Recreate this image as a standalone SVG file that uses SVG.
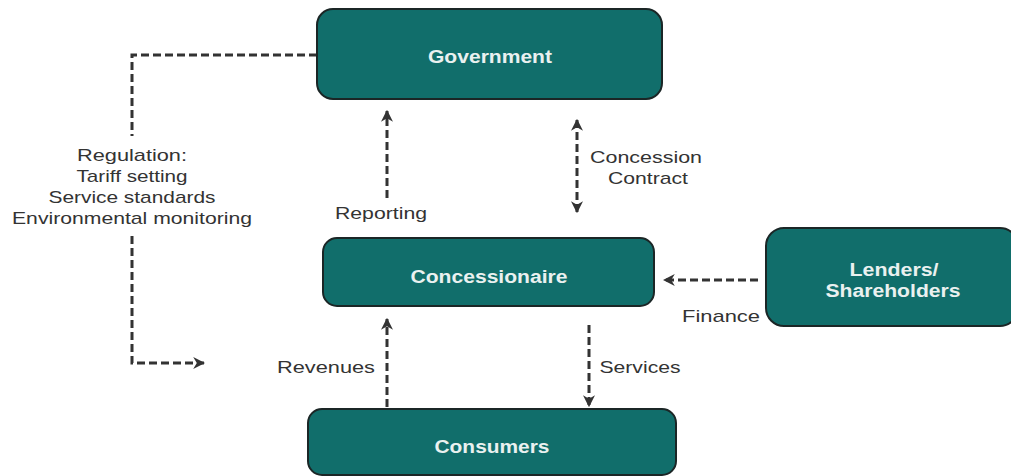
<svg xmlns="http://www.w3.org/2000/svg" width="1011" height="476" viewBox="0 0 1011 476">
<style>
.box{fill:#116e6b;stroke:#1b2626;stroke-width:2}
.lbl{font-family:"Liberation Sans",Arial,sans-serif;font-weight:bold;font-size:18px;fill:#eaf1f0;text-anchor:middle}
.txt{font-family:"Liberation Sans",Arial,sans-serif;font-size:17px;fill:#333;text-anchor:middle}
.dash{fill:none;stroke:#333;stroke-width:3;stroke-dasharray:8 4}
</style>
<defs>
<marker id="ah" viewBox="0 0 10 10" refX="9" refY="5" markerWidth="4" markerHeight="4" orient="auto-start-reverse" markerUnits="strokeWidth">
<path d="M0,0 L10,5 L0,10 L3,5 z" fill="#333"/>
</marker>
</defs>
<rect width="1011" height="476" fill="#fff"/>
<g id="connectors">
<path class="dash" d="M317,55 H132 V136"/>
<path class="dash" d="M132,236 V363 H204" marker-end="url(#ah)"/>
<path class="dash" d="M387,198 V111" marker-end="url(#ah)"/>
<path class="dash" d="M577,120 V212" marker-start="url(#ah)" marker-end="url(#ah)"/>
<path class="dash" d="M758,280 H664" marker-end="url(#ah)"/>
<path class="dash" d="M387,407 V319" marker-end="url(#ah)"/>
<path class="dash" d="M589,325 V406" marker-end="url(#ah)"/>
<text class="txt" x="132" y="161" textLength="110" lengthAdjust="spacingAndGlyphs">Regulation:</text>
<text class="txt" x="132" y="182" textLength="111" lengthAdjust="spacingAndGlyphs">Tariff setting</text>
<text class="txt" x="132" y="203" textLength="167" lengthAdjust="spacingAndGlyphs">Service standards</text>
<text class="txt" x="132" y="224" textLength="240" lengthAdjust="spacingAndGlyphs">Environmental monitoring</text>
<text class="txt" x="381" y="219" textLength="92" lengthAdjust="spacingAndGlyphs">Reporting</text>
<text class="txt" x="646" y="163" textLength="112" lengthAdjust="spacingAndGlyphs">Concession</text>
<text class="txt" x="648" y="184" textLength="80" lengthAdjust="spacingAndGlyphs">Contract</text>
<text class="txt" x="721" y="322" textLength="78" lengthAdjust="spacingAndGlyphs">Finance</text>
<text class="txt" x="326" y="373" textLength="98" lengthAdjust="spacingAndGlyphs">Revenues</text>
<text class="txt" x="640" y="373" textLength="81" lengthAdjust="spacingAndGlyphs">Services</text>
</g>
<g id="government">
<rect class="box" x="317" y="9" width="345" height="90" rx="16"/>
<text class="lbl" x="490" y="63" textLength="124" lengthAdjust="spacingAndGlyphs">Government</text>
</g>
<g id="concessionaire">
<rect class="box" x="323" y="238" width="331" height="68" rx="14"/>
<text class="lbl" x="489" y="283" textLength="157" lengthAdjust="spacingAndGlyphs">Concessionaire</text>
</g>
<g id="lenders">
<rect class="box" x="766" y="228" width="252" height="98" rx="18"/>
<text class="lbl" x="894" y="276" textLength="89" lengthAdjust="spacingAndGlyphs">Lenders/</text>
<text class="lbl" x="893" y="297" textLength="135" lengthAdjust="spacingAndGlyphs">Shareholders</text>
</g>
<g id="consumers">
<rect class="box" x="308" y="409" width="368" height="66" rx="14"/>
<text class="lbl" x="492" y="453" textLength="115" lengthAdjust="spacingAndGlyphs">Consumers</text>
</g>
</svg>
